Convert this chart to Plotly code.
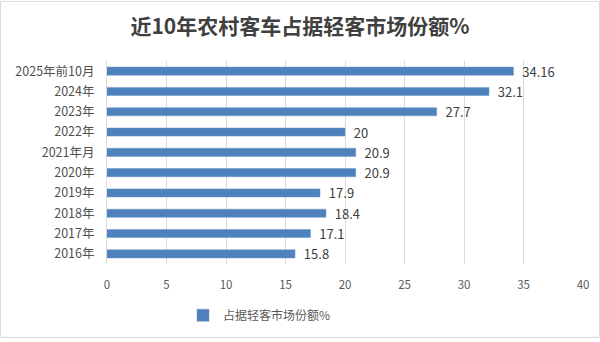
import plotly.graph_objects as go

categories = ["2016年", "2017年", "2018年", "2019年", "2020年", "2021年月",
              "2022年", "2023年", "2024年", "2025年前10月"]
values = [15.8, 17.1, 18.4, 17.9, 20.9, 20.9, 20, 27.7, 32.1, 34.16]
labels = ["15.8", "17.1", "18.4", "17.9", "20.9", "20.9", "20", "27.7", "32.1", "34.16"]
series_name = "占据轻客市场份额%"
title_text = "近10年农村客车占据轻客市场份额%"
x_ticks = [0, 5, 10, 15, 20, 25, 30, 35, 40]

W, H = 600, 342
ml, mr, mt, mb = 107, 17, 61, 75
pw, ph = W - ml - mr, H - mt - mb

font_family = "Noto Sans CJK SC, Noto Sans, sans-serif"

fig = go.Figure()
fig.add_trace(go.Bar(
    y=categories, x=values, orientation="h",
    name=series_name,
    marker=dict(color="#4f81bd", line=dict(color="#6a95c9", width=0.5)),
    text=["\u00a0\u00a0" + t for t in labels], textposition="outside",
    cliponaxis=False, constraintext="none",
    textfont=dict(size=13, color="#404040", family=font_family),
    showlegend=True,
))

fig.update_layout(
    width=W, height=H,
    margin=dict(l=ml, r=mr, t=mt, b=mb, pad=0),
    paper_bgcolor="white", plot_bgcolor="white",
    bargap=0.6,
    title=dict(text="<b>" + title_text + "</b>", x=0.5, xanchor="center",
               y=1 - 27 / H, yanchor="middle",
               font=dict(size=21, color="#404040", family=font_family)),
    xaxis=dict(range=[0, 40], tickvals=x_ticks, showgrid=True,
               gridcolor="#d9d9d9", gridwidth=1, zeroline=False,
               showline=False, ticks="",
               tickfont=dict(size=11.5, color="#595959", family=font_family),
               ticklabelstandoff=12),
    yaxis=dict(showgrid=False, showline=True, linecolor="#d9d9d9",
               linewidth=1, ticks="", ticklen=0,
               tickfont=dict(size=12.5, color="#505050", family=font_family),
               ticklabelstandoff=9),
    legend=dict(orientation="h", x=(183 - ml) / pw, xanchor="left",
                y=-(319 - (mt + ph)) / ph, yanchor="middle",
                font=dict(size=12, color="#595959", family=font_family),
                itemwidth=30, bgcolor="rgba(0,0,0,0)"),
    showlegend=True,
)

# outer border around the chart
fig.add_shape(type="rect", xref="paper", yref="paper",
              x0=(0.5 - ml) / pw, x1=(W - 0.5 - ml) / pw,
              y0=-(H - 0.5 - mt - ph) / ph, y1=1 + (mt - 0.5) / ph,
              line=dict(color="#d9d9d9", width=1), layer="below")

fig.write_html("out.html")
